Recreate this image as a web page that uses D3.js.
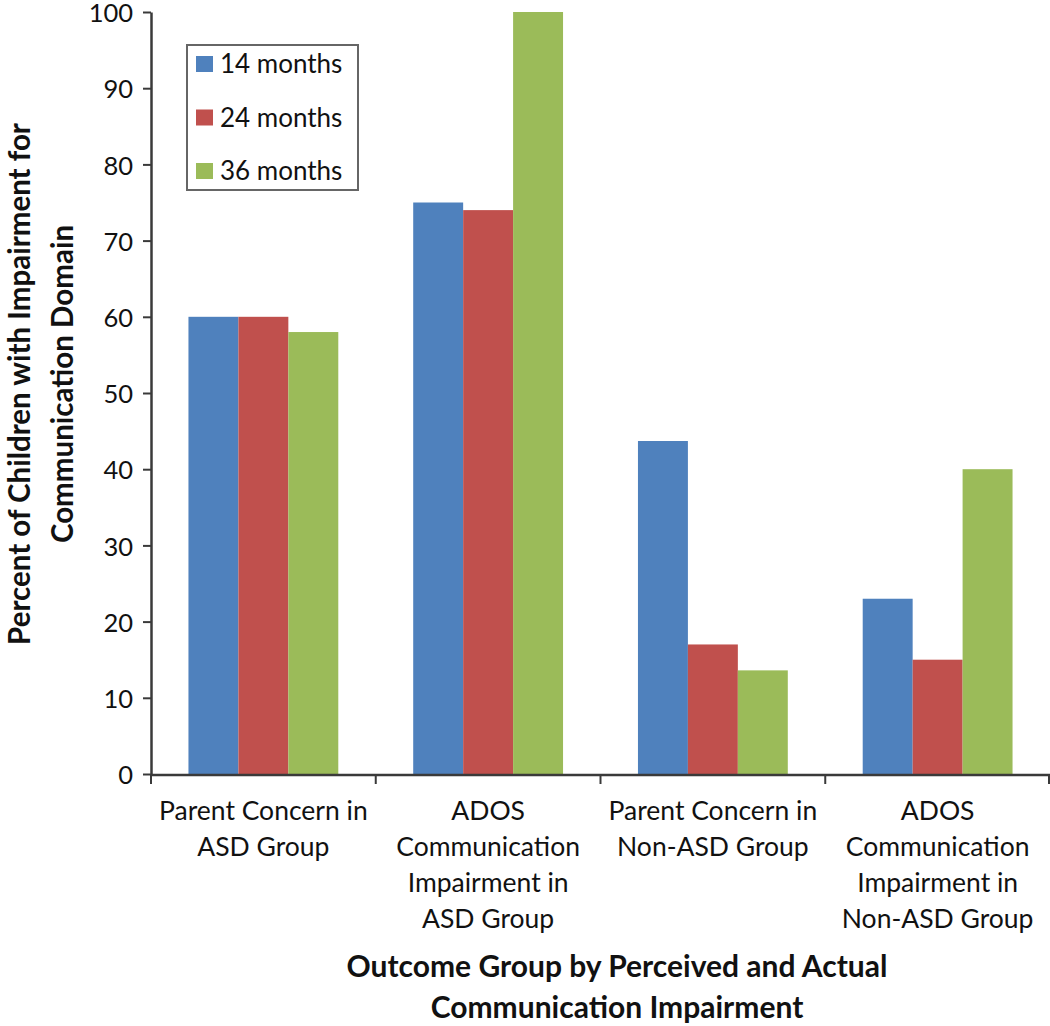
<!DOCTYPE html>
<html><head><meta charset="utf-8">
<script src="https://cdn.jsdelivr.net/npm/d3@7"></script>
<style>body{margin:0;background:#fff}svg{display:block}text{font-family:Lato,"Open Sans",sans-serif;fill:#111}</style>
</head><body><svg id="c" width="1050" height="1026"></svg>
<script>
const categories = [
  ["Parent Concern in","ASD Group"],
  ["ADOS","Communication","Impairment in","ASD Group"],
  ["Parent Concern in","Non-ASD Group"],
  ["ADOS","Communication","Impairment in","Non-ASD Group"]
];
const seriesNames = ["14 months","24 months","36 months"];
const s14 = [60, 75, 43.7, 23];
const s24 = [60, 74, 17, 15];
const s36 = [58, 100, 13.6, 40];
const yTicks = [0,10,20,30,40,50,60,70,80,90,100];
const colors = ["#4F81BD","#C0504D","#9BBB59"];

const series = [s14, s24, s36];
const svg = d3.select("#c");
const x0 = d3.scaleBand().domain(d3.range(categories.length)).range([151,1050]).paddingInner(0).paddingOuter(0);
const x1 = d3.scaleBand().domain(d3.range(series.length)).range([0, x0.bandwidth()]).paddingOuter(0.75).paddingInner(0);
const y = d3.scaleLinear().domain([0,100]).range([774,12]);

// bars
const g = svg.append("g");
categories.forEach((c,i)=>{
  series.forEach((s,j)=>{
    g.append("rect").attr("x", x0(i)+x1(j)).attr("width", x1.bandwidth())
      .attr("y", y(s[i])).attr("height", y(0)-y(s[i])).attr("fill", colors[j]);
  });
});

// y axis
const ya = svg.append("g").attr("transform","translate(151,0)")
  .call(d3.axisLeft(y).tickValues(yTicks).tickSize(8).tickPadding(10).tickSizeOuter(0));
ya.select(".domain").attr("stroke","#3a3a3a").attr("stroke-width",2.5);
ya.selectAll(".tick line").attr("stroke","#3a3a3a").attr("stroke-width",2);
ya.selectAll(".tick text").style("font-size","25.5px").attr("fill","#111").attr("dy","0.38em");

// x axis
const xa = svg.append("g").attr("transform","translate(0,775)");
xa.append("line").attr("x1",151).attr("x2",1050).attr("y1",0).attr("y2",0).attr("stroke","#3a3a3a").attr("stroke-width",2.5);
d3.range(categories.length+1).forEach(i=>{
  const xx = i<categories.length ? x0(i) : x0.range()[1]-1;
  xa.append("line").attr("x1",xx).attr("x2",xx).attr("y1",0).attr("y2",9).attr("stroke","#3a3a3a").attr("stroke-width",2);
});
categories.forEach((c,i)=>{
  const t = xa.append("text").attr("text-anchor","middle").style("font-size","26.5px");
  c.forEach((line,k)=>{
    t.append("tspan").attr("x", x0(i)+x0.bandwidth()/2).attr("y", 45 + k*36).text(line);
  });
});

// axis titles
const xt = svg.append("text").attr("text-anchor","middle").style("font-size","30px").style("font-weight","bold");
xt.append("tspan").attr("x",617).attr("y",977).text("Outcome Group by Perceived and Actual");
xt.append("tspan").attr("x",617).attr("y",1018).text("Communication Impairment");

const yt = svg.append("text").attr("text-anchor","middle").style("font-size","29.5px").style("font-weight","bold")
  .attr("transform","translate(0,384) rotate(-90)");
yt.append("tspan").attr("x",0).attr("y",30).text("Percent of Children with Impairment for");
yt.append("tspan").attr("x",0).attr("y",73).text("Communication Domain");

// legend
const lg = svg.append("g");
lg.append("rect").attr("x",187).attr("y",45).attr("width",171).attr("height",145)
  .attr("fill","#fff").attr("stroke","#666").attr("stroke-width",2);
seriesNames.forEach((n,j)=>{
  const cy = 64 + j*53.5;
  lg.append("rect").attr("x",196).attr("y",cy-8).attr("width",17).attr("height",16).attr("fill",colors[j]);
  lg.append("text").attr("x",220).attr("y",cy+9).style("font-size","26px").text(n);
});
</script></body></html>
